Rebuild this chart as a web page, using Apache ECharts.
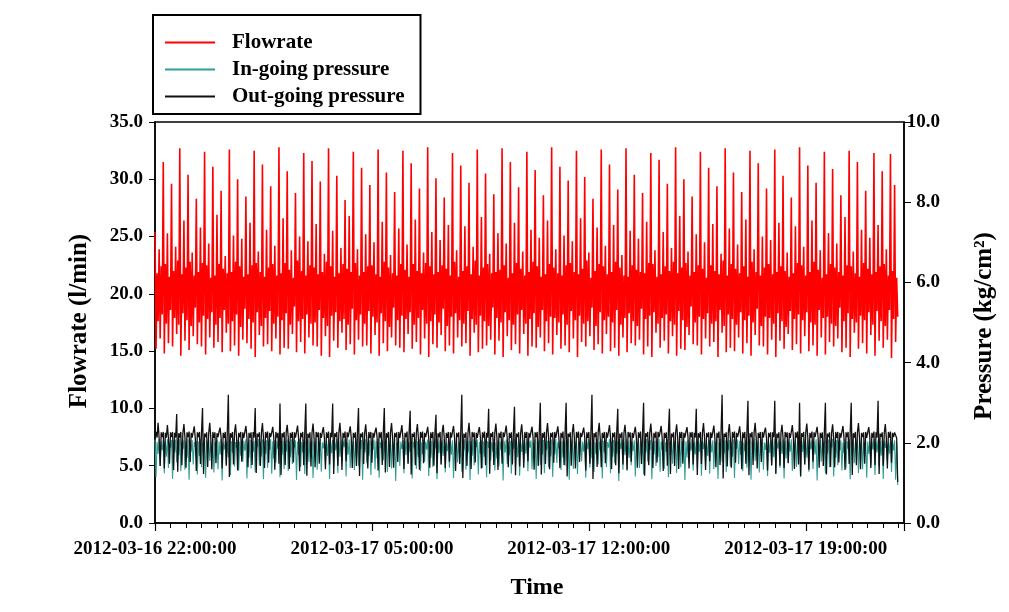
<!DOCTYPE html>
<html><head><meta charset="utf-8">
<script src="https://cdn.jsdelivr.net/npm/echarts@6/dist/echarts.min.js"></script>
<style>html,body{margin:0;padding:0;background:#fff}#c{width:1009px;height:612px}</style>
</head><body><div id="c"></div>
<script>
// one reading every 2 minutes starting at 2012-03-16 22:00:00 (x in hours from start)
const stepHours = 2 / 60;
const xTickLabels = ['2012-03-16 22:00:00', '2012-03-17 05:00:00', '2012-03-17 12:00:00', '2012-03-17 19:00:00'];
const seriesNames = ['Flowrate', 'In-going pressure', 'Out-going pressure'];

const flowrate = [
25.4,15.2,21.8,17.6,23.9,16.1,22.4,18.2, 31.5,14.8,22.6,17.4,25.3,15.7,21.5,18.6, 29.6,15.4,22.0,17.9,24.1,16.5,22.9,17.3,
32.7,14.6,21.7,18.3,26.4,15.9,22.3,17.7, 30.4,15.1,22.8,17.2,23.6,16.3,21.6,18.8, 28.3,15.6,21.9,17.5,25.8,15.4,22.7,18.1,
32.4,14.7,22.5,17.8,24.4,16.2,21.4,18.4, 31.1,15.3,21.6,17.3,26.9,15.8,22.6,17.9, 29.0,14.9,22.2,18.6,23.3,16.6,21.8,17.4,
32.6,15.0,21.9,17.6,25.1,15.5,22.8,18.2, 30.0,14.6,22.4,17.1,24.8,16.0,21.5,18.7, 28.5,15.7,21.7,17.8,26.2,15.2,22.5,17.5,
32.5,14.5,22.7,18.4,23.7,16.4,21.9,17.2, 31.3,15.4,21.5,17.9,25.6,15.6,22.3,18.5, 29.4,15.0,22.6,17.4,24.2,16.1,21.6,18.0,
32.8,14.7,21.8,17.7,26.6,15.3,22.7,18.3, 30.7,15.2,22.1,17.3,23.8,16.5,21.4,18.9, 28.8,14.9,22.9,17.6,25.0,15.8,22.0,17.8,
32.3,14.8,21.6,18.2,24.6,16.2,22.5,17.4, 31.6,15.5,22.3,17.5,26.1,15.4,21.7,18.6, 29.8,14.6,21.9,17.9,23.5,16.3,22.8,17.2,
32.7,14.5,22.4,18.1,25.5,15.9,21.5,18.4, 30.3,15.3,21.8,17.6,24.0,16.6,22.6,17.8, 28.2,15.1,22.2,17.3,26.8,15.6,21.9,18.7,
32.4,14.7,22.7,17.7,23.9,16.0,21.6,18.2, 31.0,15.4,21.9,17.4,25.2,15.5,22.4,18.5, 29.5,14.8,22.5,18.0,24.5,16.4,21.7,17.5,
32.6,14.6,21.5,18.3,26.3,15.7,22.8,17.6, 30.6,15.0,22.3,17.1,23.4,16.2,21.8,18.8, 28.9,15.5,21.6,17.7,25.7,15.3,22.6,18.1,
32.5,14.9,22.1,17.8,24.3,16.5,21.5,18.4, 31.4,15.2,22.6,17.3,26.5,15.8,22.0,17.9, 29.2,14.7,21.8,18.6,23.6,16.1,22.7,17.4,
32.8,14.5,22.4,17.6,25.4,15.6,21.7,18.2, 30.1,15.3,21.9,17.5,24.7,16.4,22.5,18.7, 28.4,15.0,22.2,17.2,26.0,15.5,21.6,18.0,
32.3,14.8,22.8,18.3,23.8,16.2,21.5,17.7, 31.2,15.4,22.0,17.4,25.9,15.7,22.4,18.5, 29.7,14.6,21.7,17.8,24.1,16.6,22.9,17.3,
32.6,14.9,21.6,18.1,26.7,15.2,22.3,17.6, 30.5,15.5,22.6,17.2,23.5,16.0,21.8,18.8, 28.7,14.7,21.9,17.9,25.3,15.9,22.1,17.5,
32.7,14.5,22.5,18.4,24.4,16.3,21.4,17.7, 31.5,15.1,21.8,17.3,26.2,15.6,22.7,18.2, 29.3,14.8,22.2,18.6,23.7,16.5,21.6,17.4,
32.4,14.6,21.9,17.8,25.6,15.4,22.8,18.3, 30.8,15.3,22.4,17.1,24.9,16.2,21.5,18.6, 28.6,15.0,21.7,17.6,26.4,15.7,22.6,18.0,
32.8,14.7,22.3,17.9,23.9,16.4,21.8,17.5, 31.1,15.2,21.6,18.2,25.1,15.5,22.5,17.3, 29.9,14.9,22.7,18.5,24.6,16.1,21.9,17.7,
32.5,14.5,21.7,18.1,26.6,15.8,22.2,17.4, 30.2,15.4,22.9,17.6,23.6,16.3,21.4,18.8, 28.3,15.1,22.0,17.2,25.8,15.6,22.6,18.4,
32.6,14.8,22.4,17.7,24.2,16.5,21.7,18.0, 31.3,15.0,21.9,17.5,26.0,15.3,22.8,18.6, 29.1,14.6,22.3,17.3,23.4,16.2,21.6,17.9,
32.7,14.9,21.5,18.3,25.5,15.7,22.5,17.6, 30.4,15.5,22.1,17.2,24.8,16.0,21.9,18.7, 28.8,14.7,21.8,17.8,26.3,15.4,22.7,18.1,
32.3,14.5,22.6,18.4,23.8,16.6,21.5,17.4, 31.7,15.3,21.7,17.9,25.4,15.9,22.4,18.2, 29.6,14.8,22.0,17.6,24.0,16.3,22.8,17.3,
32.8,14.6,21.8,18.5,26.8,15.2,22.3,17.7, 30.0,15.1,22.7,17.1,23.7,16.4,21.6,18.9, 28.5,15.6,21.9,17.5,25.2,15.5,22.5,18.0,
32.4,14.7,22.2,17.8,24.5,16.1,21.4,18.3, 31.0,15.4,22.5,17.4,26.1,15.8,22.0,17.6, 29.4,14.5,21.7,18.6,23.5,16.6,22.9,17.2,
32.7,14.9,21.6,18.2,25.7,15.3,22.6,17.8, 30.6,15.0,22.2,17.3,24.3,16.2,21.8,18.4, 28.9,14.8,22.4,17.7,26.5,15.7,21.5,18.1,
32.5,14.6,22.8,17.5,23.9,16.4,21.9,18.7, 31.4,15.5,21.6,17.2,25.0,15.4,22.3,18.0, 29.2,14.7,22.6,17.9,24.7,16.0,21.7,17.4,
32.6,14.5,21.9,18.3,26.2,15.9,22.4,17.6, 30.3,15.2,22.0,17.1,23.6,16.5,21.5,18.5, 28.4,15.1,21.8,17.8,25.9,15.6,22.7,18.2,
32.8,14.8,22.5,17.7,24.1,16.3,21.6,18.4, 31.2,15.0,21.9,17.5,26.4,15.5,22.8,17.3, 29.7,14.6,22.1,18.6,23.8,16.2,21.4,17.9,
32.4,14.7,21.7,18.0,25.3,15.8,22.6,17.4, 30.9,15.4,22.3,17.2,24.4,16.1,21.9,18.8, 28.6,14.9,21.6,17.6,26.7,15.3,22.5,18.3,
32.5,14.5,22.4,17.8,23.7,16.6,21.8,17.5, 31.5,15.2,21.5,18.1,25.6,15.7,22.7,17.7, 29.0,14.8,22.2,18.4,24.9,16.4,21.7,17.3,
32.3,14.6,21.9,18.5,26.0,15.9,22.4,17.6, 30.7,15.3,22.6,17.2,23.9,16.0,21.6,18.6, 32.2,14.4,22.0,17.8,29.5,15.8,21.4,18.0
];

const inPressure = [
2.08,1.15,2.02,1.72,2.10,1.42,2.04,1.81, 2.06,1.24,2.03,1.65,2.09,1.37,2.01,1.88, 2.07,1.10,2.05,1.76,2.08,1.51,2.02,1.69,
2.10,1.29,2.01,1.84,2.06,1.33,2.03,1.62, 2.09,1.08,2.04,1.78,2.07,1.46,2.02,1.90, 2.05,1.21,2.03,1.67,2.10,1.39,2.01,1.74,
2.08,1.13,2.05,1.86,2.06,1.55,2.03,1.61, 2.10,1.26,2.02,1.79,2.07,1.34,2.04,1.70, 2.09,1.06,2.01,1.83,2.05,1.48,2.03,1.64,
2.07,1.19,2.04,1.75,2.10,1.41,2.02,1.87, 2.06,1.31,2.03,1.68,2.08,1.53,2.05,1.80, 2.09,1.11,2.01,1.63,2.07,1.36,2.04,1.77,
2.05,1.27,2.03,1.89,2.10,1.44,2.02,1.66, 2.08,1.09,2.04,1.73,2.06,1.38,2.01,1.82, 2.09,1.23,2.03,1.60,2.07,1.50,2.05,1.85,
2.10,1.14,2.02,1.71,2.05,1.35,2.03,1.78, 2.08,1.30,2.04,1.64,2.09,1.47,2.01,1.88, 2.06,1.07,2.03,1.69,2.10,1.40,2.02,1.76,
2.07,1.22,2.05,1.83,2.08,1.52,2.03,1.62, 2.06,1.12,2.02,1.79,2.10,1.33,2.04,1.72, 2.09,1.28,2.01,1.86,2.05,1.45,2.03,1.67,
2.08,1.10,2.04,1.74,2.07,1.39,2.02,1.81, 2.10,1.25,2.03,1.65,2.06,1.54,2.05,1.89, 2.09,1.16,2.01,1.70,2.08,1.37,2.04,1.78,
2.05,1.32,2.03,1.63,2.10,1.43,2.02,1.85, 2.07,1.08,2.04,1.76,2.09,1.49,2.01,1.68, 2.06,1.20,2.03,1.82,2.08,1.34,2.05,1.61,
2.10,1.13,2.02,1.87,2.06,1.56,2.03,1.73, 2.08,1.27,2.04,1.66,2.07,1.36,2.02,1.80, 2.09,1.05,2.01,1.75,2.05,1.42,2.03,1.84,
2.07,1.24,2.05,1.69,2.10,1.48,2.02,1.77, 2.06,1.11,2.03,1.88,2.08,1.35,2.04,1.64, 2.09,1.30,2.01,1.71,2.07,1.53,2.03,1.83,
2.08,1.17,2.04,1.62,2.05,1.40,2.02,1.86, 2.10,1.09,2.03,1.74,2.06,1.46,2.05,1.67, 2.09,1.26,2.01,1.79,2.08,1.38,2.04,1.70,
2.06,1.12,2.03,1.84,2.10,1.51,2.02,1.63, 2.07,1.28,2.04,1.81,2.09,1.33,2.01,1.76, 2.05,1.07,2.03,1.68,2.10,1.44,2.05,1.89,
2.08,1.21,2.02,1.72,2.06,1.37,2.03,1.65, 2.09,1.14,2.04,1.87,2.07,1.55,2.02,1.78, 2.10,1.31,2.01,1.61,2.06,1.41,2.03,1.82,
2.07,1.06,2.05,1.75,2.08,1.47,2.02,1.69, 2.05,1.23,2.03,1.85,2.10,1.36,2.04,1.64, 2.09,1.18,2.01,1.77,2.07,1.52,2.03,1.73,
2.10,1.29,2.04,1.88,2.06,1.34,2.02,1.62, 2.08,1.10,2.03,1.79,2.09,1.45,2.05,1.70, 2.07,1.25,2.01,1.83,2.05,1.39,2.04,1.66,
2.08,1.15,2.03,1.71,2.10,1.50,2.02,1.86, 2.06,1.32,2.04,1.63,2.07,1.43,2.01,1.80, 2.09,1.08,2.03,1.74,2.08,1.35,2.05,1.89,
2.05,1.22,2.02,1.67,2.10,1.54,2.03,1.78, 2.07,1.13,2.04,1.84,2.09,1.38,2.02,1.61, 2.06,1.27,2.01,1.72,2.10,1.46,2.03,1.81,
2.08,1.11,2.05,1.76,2.06,1.40,2.02,1.88, 2.09,1.24,2.03,1.65,2.07,1.49,2.04,1.73, 2.05,1.05,2.01,1.85,2.08,1.33,2.03,1.69,
2.10,1.30,2.04,1.62,2.07,1.44,2.02,1.79, 2.06,1.16,2.03,1.87,2.09,1.37,2.05,1.66, 2.08,1.21,2.01,1.75,2.10,1.53,2.04,1.82,
2.07,1.09,2.03,1.70,2.05,1.42,2.02,1.64, 2.10,1.28,2.04,1.83,2.08,1.35,2.01,1.77, 2.09,1.14,2.03,1.68,2.06,1.48,2.05,1.86,
2.08,1.25,2.02,1.74,2.10,1.39,2.03,1.89, 2.06,1.07,2.04,1.63,2.07,1.51,2.02,1.80, 2.09,1.31,2.01,1.71,2.05,1.36,2.03,1.78,
2.10,1.18,2.05,1.84,2.08,1.45,2.02,1.67, 2.07,1.23,2.03,1.76,2.06,1.34,2.04,1.88, 2.09,1.10,2.01,1.62,2.10,1.52,2.03,1.73,
2.06,1.27,2.04,1.81,2.07,1.41,2.02,1.65, 2.09,1.12,2.03,1.85,2.08,1.47,2.05,1.70, 2.05,1.29,2.01,1.79,2.07,1.38,2.04,1.63,
2.08,1.08,2.03,1.74,2.10,1.55,2.02,1.87, 2.06,1.26,2.04,1.68,2.09,1.33,2.01,1.82, 2.07,1.17,2.03,1.75,2.08,1.43,2.05,1.64,
2.10,1.22,2.02,1.86,2.05,1.37,2.03,1.72, 2.08,1.11,2.04,1.61,2.07,1.50,2.02,1.78, 2.09,1.30,2.01,1.89,2.06,1.40,2.03,1.69,
2.07,1.14,2.05,1.77,2.10,1.46,2.02,1.63, 2.08,1.28,2.03,1.84,2.06,1.35,2.04,1.71, 2.09,1.06,2.01,1.80,2.07,1.53,2.03,1.66,
2.05,1.24,2.04,1.73,2.08,1.39,2.02,1.88, 2.10,1.16,2.03,1.62,2.07,1.44,2.05,1.81, 2.06,1.31,2.01,1.75,2.09,1.36,2.04,1.85,
2.08,1.09,2.03,1.67,2.06,1.49,2.02,1.79, 2.09,1.25,2.04,1.86,2.10,1.34,2.01,1.64, 2.07,1.13,2.03,1.72,2.05,1.45,2.05,1.83,
2.10,1.20,2.02,1.76,2.08,1.41,2.03,1.68, 2.06,1.10,2.04,1.87,2.07,1.52,2.02,1.73, 2.09,1.27,2.01,1.81,2.06,1.08,2.03,0.95
];

const outPressure = [
2.20,2.27,2.13,2.50,2.12,1.42,2.26,2.14,2.27,1.36,2.25,2.13,2.44,2.12,1.48,2.26,2.14,2.27,1.32,2.25,2.13,
2.72,1.28,2.24,2.13,2.27,1.44,2.25,2.47,2.12,1.38,2.26,2.14,2.28,1.52,2.25,2.13,2.27,2.41,2.12,1.30,2.26,2.14,2.27,1.47,2.25,
2.87,1.22,2.23,2.14,2.26,1.40,2.25,2.50,2.13,1.34,2.27,2.12,2.26,1.49,2.24,2.14,2.28,2.38,2.13,1.36,2.25,2.12,2.27,1.43,2.26,
3.20,1.15,2.24,2.13,2.27,1.46,2.26,2.46,2.12,1.31,2.25,2.14,2.27,1.53,2.26,2.12,2.28,2.42,2.14,1.39,2.25,2.13,2.26,1.45,2.27,2.13,
2.87,1.25,2.23,2.15,2.26,1.42,2.25,2.49,2.12,1.37,2.27,2.13,2.28,1.50,2.25,2.14,2.26,2.40,2.12,1.33,2.27,2.13,2.25,1.48,
2.98,1.20,2.24,2.14,2.27,1.45,2.26,2.45,2.13,1.35,2.25,2.12,2.27,1.51,2.26,2.13,2.28,2.43,2.12,1.29,2.25,2.14,2.27,1.44,2.26,
2.98,1.18,2.23,2.13,2.26,1.41,2.25,2.48,2.12,1.39,2.27,2.14,2.26,1.48,2.25,2.12,2.27,2.39,2.13,1.34,2.26,2.12,2.28,1.46,2.25,2.14,
2.98,1.22,2.24,2.15,2.27,1.43,2.26,2.50,2.13,1.32,2.25,2.13,2.28,1.54,2.26,2.14,2.27,2.41,2.12,1.37,2.25,2.13,2.26,1.42,2.27,
2.87,1.17,2.23,2.14,2.26,1.47,2.25,2.46,2.12,1.36,2.27,2.12,2.27,1.50,2.25,2.13,2.28,2.38,2.14,1.31,2.26,2.13,2.27,1.45,2.25,
2.87,1.26,2.24,2.13,2.27,1.40,2.26,2.49,2.13,1.38,2.25,2.14,2.26,1.52,2.27,2.12,2.27,2.44,2.12,1.35,2.25,2.14,2.28,1.48,2.26,
2.80,1.21,2.23,2.15,2.26,1.44,2.25,2.47,2.12,1.33,2.27,2.13,2.28,1.49,2.25,2.14,2.26,2.40,2.13,1.38,2.26,2.12,2.27,1.43,2.25,
2.70,1.24,2.24,2.14,2.27,1.46,2.26,2.45,2.13,1.37,2.25,2.12,2.27,1.53,2.26,2.13,2.28,2.42,2.12,1.30,2.25,2.14,2.26,1.47,2.27,
3.20,1.12,2.23,2.13,2.26,1.42,2.25,2.50,2.12,1.35,2.27,2.14,2.26,1.51,2.25,2.12,2.27,2.39,2.14,1.36,2.26,2.13,2.28,1.44,2.25,2.13,
2.85,1.23,2.24,2.15,2.27,1.45,2.26,2.48,2.13,1.32,2.25,2.13,2.28,1.48,2.26,2.14,2.27,2.43,2.12,1.39,2.25,2.12,2.26,1.46,2.27,
2.90,1.19,2.23,2.14,2.26,1.41,2.25,2.46,2.12,1.38,2.27,2.12,2.27,1.54,2.25,2.13,2.28,2.40,2.13,1.33,2.26,2.14,2.27,1.42,2.25,
3.00,1.21,2.24,2.13,2.27,1.47,2.26,2.49,2.13,1.34,2.25,2.14,2.26,1.50,2.27,2.12,2.27,2.41,2.12,1.37,2.25,2.13,2.28,1.45,2.26,
3.00,1.16,2.23,2.15,2.26,1.43,2.25,2.47,2.12,1.36,2.27,2.13,2.28,1.52,2.25,2.14,2.26,2.38,2.14,1.31,2.26,2.12,2.27,1.48,2.25,
3.20,1.10,2.24,2.14,2.27,1.40,2.26,2.50,2.13,1.39,2.25,2.12,2.27,1.49,2.26,2.13,2.28,2.44,2.12,1.35,2.25,2.14,2.26,1.44,2.27,
2.85,1.24,2.23,2.13,2.26,1.46,2.25,2.45,2.12,1.33,2.27,2.14,2.26,1.53,2.25,2.12,2.27,2.40,2.13,1.38,2.26,2.13,2.28,1.47,2.25,
3.00,1.18,2.24,2.15,2.27,1.44,2.26,2.48,2.13,1.37,2.25,2.13,2.28,1.51,2.27,2.14,2.27,2.42,2.12,1.30,2.25,2.12,2.26,1.43,2.26,
2.85,1.22,2.23,2.14,2.26,1.42,2.25,2.46,2.12,1.35,2.27,2.12,2.27,1.48,2.25,2.13,2.28,2.39,2.14,1.36,2.26,2.14,2.27,1.46,2.25,2.13,
2.85,1.20,2.24,2.13,2.27,1.47,2.26,2.49,2.13,1.32,2.25,2.14,2.26,1.54,2.26,2.12,2.27,2.43,2.12,1.39,2.25,2.13,2.28,1.45,2.27,
3.20,1.11,2.23,2.15,2.26,1.41,2.25,2.47,2.12,1.38,2.27,2.13,2.28,1.50,2.25,2.14,2.26,2.41,2.13,1.34,2.26,2.12,2.27,1.48,2.25,
3.05,1.19,2.24,2.14,2.27,1.45,2.26,2.50,2.13,1.36,2.25,2.12,2.27,1.52,2.27,2.13,2.28,2.38,2.12,1.31,2.25,2.14,2.26,1.44,2.26,2.14,
3.05,1.23,2.23,2.13,2.26,1.43,2.25,2.45,2.12,1.37,2.27,2.14,2.26,1.49,2.25,2.12,2.27,2.44,2.14,1.35,2.26,2.13,2.28,1.46,
3.00,1.17,2.24,2.15,2.27,1.46,2.26,2.48,2.13,1.33,2.25,2.13,2.28,1.53,2.26,2.14,2.27,2.40,2.12,1.38,2.25,2.12,2.26,1.42,2.27,
3.00,1.21,2.23,2.14,2.26,1.40,2.25,2.46,2.12,1.39,2.27,2.12,2.27,1.51,2.25,2.13,2.28,2.42,2.13,1.32,2.26,2.14,2.27,1.47,2.25,
3.00,1.20,2.24,2.13,2.27,1.44,2.26,2.49,2.13,1.34,2.25,2.14,2.26,1.48,2.27,2.12,2.27,2.39,2.14,1.37,2.25,2.13,2.28,1.45,2.26,2.13,
3.05,1.22,2.23,2.15,2.26,1.43,2.25,2.47,2.12,1.36,2.27,2.13,2.28,1.50,2.25,2.14,2.26,2.30,2.12,1.02
];

const FONT = 'Liberation Serif';
const toPairs = arr => arr.map((v, i) => [i * stepHours, v]);

const chart = echarts.init(document.getElementById('c'), null, { renderer: 'canvas' });
const lab = { color: '#000', fontFamily: FONT, fontWeight: 'bold', fontSize: 19 };

chart.setOption({
  animation: false,
  backgroundColor: '#fff',
  grid: { left: 155, right: 105, top: 122, bottom: 89, show: true, borderColor: '#000', borderWidth: 1.5, backgroundColor: 'transparent' },
  legend: {
    data: seriesNames,
    orient: 'vertical',
    left: 153, top: 15,
    padding: [17, 16, 7, 12],
    icon: 'rect',
    itemWidth: 50, itemHeight: 2, itemGap: 6,
    borderColor: '#000', borderWidth: 2, backgroundColor: '#fff',
    textStyle: { color: '#000', fontFamily: FONT, fontWeight: 'bold', fontSize: 21, padding: [0, 0, 0, 12] },
    selectedMode: false
  },
  xAxis: [{
    type: 'value', min: 0, max: 24.17, interval: 0.5,
    position: 'bottom',
    splitLine: { show: false },
    axisLine: { onZero: false, lineStyle: { color: '#000', width: 1.5 } },
    axisTick: { inside: false, length: 5, lineStyle: { color: '#000', width: 1 } },
    axisLabel: Object.assign({}, lab, {
      margin: 17, showMaxLabel: false,
      formatter: v => { const k = Math.round(v / 7); return Math.abs(v - k * 7) < 1e-6 && k < xTickLabels.length ? xTickLabels[k] : ''; }
    })
  }, {
    type: 'value', min: 0, max: 24.17, interval: 7,
    position: 'bottom',
    splitLine: { show: false },
    axisLine: { show: false, onZero: false },
    axisTick: { inside: false, length: 8, lineStyle: { color: '#000', width: 1.2 } },
    axisLabel: { show: false }
  }],
  yAxis: [{
    type: 'value', min: 0, max: 35, interval: 5, position: 'left',
    splitLine: { show: false },
    axisLine: { show: true, onZero: false, lineStyle: { color: '#000', width: 1.5 } },
    axisTick: { show: true, inside: false, length: 6, lineStyle: { color: '#000' } },
    axisLabel: Object.assign({}, lab, { margin: 12, formatter: v => v.toFixed(1) })
  }, {
    type: 'value', min: 0, max: 10, interval: 2, position: 'right',
    splitLine: { show: false },
    axisLine: { show: true, onZero: false, lineStyle: { color: '#000', width: 1.5 } },
    axisTick: { show: true, inside: false, length: 7, lineStyle: { color: '#000' } },
    axisLabel: Object.assign({}, lab, { margin: 36, align: 'right', formatter: v => v.toFixed(1) })
  }],
  graphic: [
    { type: 'text', x: 80, y: 321, rotation: Math.PI / 2, style: { text: 'Flowrate (l/min)', fill: '#000', font: 'bold 25px "Liberation Serif"', textAlign: 'center', textVerticalAlign: 'middle' } },
    { type: 'text', x: 985, y: 326, rotation: Math.PI / 2, style: { text: 'Pressure (kg/cm²)', fill: '#000', font: 'bold 25px "Liberation Serif"', textAlign: 'center', textVerticalAlign: 'middle' } },
    { type: 'text', x: 537, y: 588, style: { text: 'Time', fill: '#000', font: 'bold 24px "Liberation Serif"', textAlign: 'center', textVerticalAlign: 'middle' } }
  ],
  series: [
    { name: seriesNames[1], type: 'line', yAxisIndex: 1, symbol: 'none', data: toPairs(inPressure), lineStyle: { color: '#2e9e96', width: 1.1 }, itemStyle: { color: '#2e9e96' } },
    { name: seriesNames[2], type: 'line', yAxisIndex: 1, symbol: 'none', data: toPairs(outPressure), lineStyle: { color: '#111111', width: 1.3 }, itemStyle: { color: '#111111' } },
    { name: seriesNames[0], type: 'line', yAxisIndex: 0, symbol: 'none', data: toPairs(flowrate), lineStyle: { color: '#ff0000', width: 1.6 }, itemStyle: { color: '#ff0000' } }
  ]
});
</script>
</body></html>
